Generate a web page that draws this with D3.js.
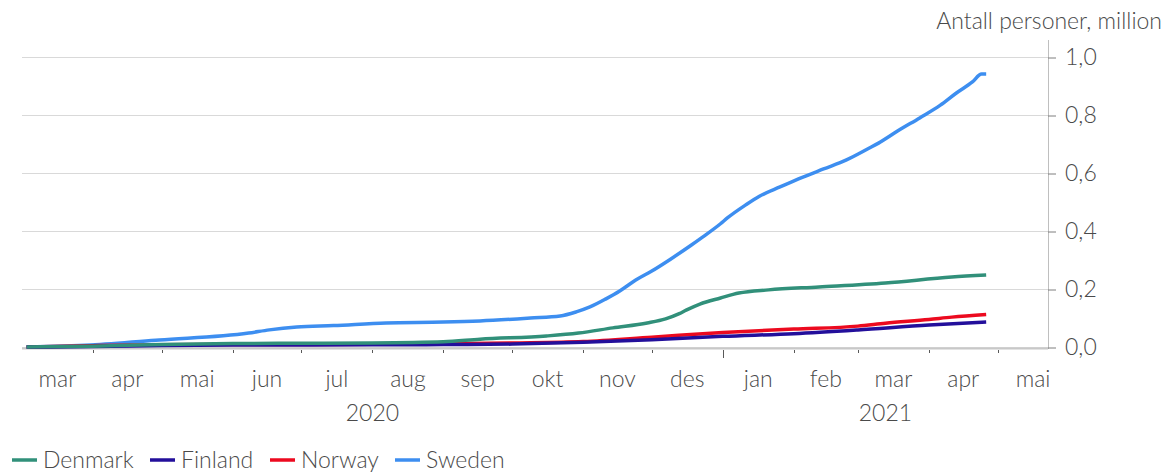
<!DOCTYPE html>
<html>
<head>
<meta charset="utf-8">
<script src="https://cdn.jsdelivr.net/npm/d3@7"></script>
<style>
  body { margin: 0; background: #fff; }
  text { font-family: Lato, "Open Sans", sans-serif; font-weight: 300; fill: #4a4a4a; }
</style>
</head>
<body>
<div id="chart"></div>
<script>
// cumulative persons, million
const denmark = [
  ["2020-03-03", 0.000], ["2020-04-01", 0.003], ["2020-05-01", 0.009], ["2020-06-01", 0.012],
  ["2020-07-01", 0.013], ["2020-08-01", 0.014], ["2020-09-01", 0.018], ["2020-09-17", 0.027],
  ["2020-10-16", 0.038], ["2020-10-30", 0.048], ["2020-11-14", 0.066], ["2020-11-29", 0.083],
  ["2020-12-07", 0.097], ["2020-12-13", 0.115], ["2020-12-16", 0.127], ["2020-12-22", 0.148],
  ["2020-12-31", 0.169], ["2021-01-08", 0.186], ["2021-01-21", 0.197], ["2021-02-12", 0.207],
  ["2021-03-13", 0.221], ["2021-04-11", 0.241], ["2021-04-26", 0.248]
];
const finland = [
  ["2020-03-03", 0.000], ["2020-04-01", 0.0014], ["2020-05-01", 0.005], ["2020-06-01", 0.0068],
  ["2020-07-01", 0.0072], ["2020-08-01", 0.0074], ["2020-09-01", 0.0082], ["2020-10-01", 0.010],
  ["2020-11-01", 0.016], ["2020-12-01", 0.025], ["2021-01-01", 0.037], ["2021-02-01", 0.046],
  ["2021-03-01", 0.059], ["2021-04-01", 0.076], ["2021-04-26", 0.086]
];
const norway = [
  ["2020-03-03", 0.000], ["2020-04-01", 0.0047], ["2020-05-01", 0.0077], ["2020-06-01", 0.0085],
  ["2020-07-01", 0.0089], ["2020-08-01", 0.0093], ["2020-09-01", 0.0107], ["2020-10-01", 0.0139],
  ["2020-11-01", 0.019], ["2020-12-01", 0.034], ["2021-01-01", 0.050], ["2021-02-01", 0.062],
  ["2021-03-01", 0.072], ["2021-03-13", 0.082], ["2021-04-01", 0.095], ["2021-04-11", 0.103],
  ["2021-04-26", 0.112]
];
const sweden = [
  ["2020-03-03", 0.000], ["2020-03-31", 0.007], ["2020-04-30", 0.024], ["2020-06-08", 0.048],
  ["2020-06-17", 0.059], ["2020-06-29", 0.069], ["2020-07-15", 0.074], ["2020-08-07", 0.083],
  ["2020-09-01", 0.086], ["2020-09-17", 0.090], ["2020-10-09", 0.100], ["2020-10-22", 0.107],
  ["2020-10-29", 0.121], ["2020-11-04", 0.138], ["2020-11-11", 0.166], ["2020-11-17", 0.193],
  ["2020-11-24", 0.231], ["2020-12-01", 0.262], ["2020-12-09", 0.302], ["2020-12-18", 0.350],
  ["2020-12-23", 0.378], ["2020-12-31", 0.425], ["2021-01-03", 0.445], ["2021-01-11", 0.490],
  ["2021-01-17", 0.520], ["2021-01-26", 0.552], ["2021-02-05", 0.586], ["2021-02-14", 0.614],
  ["2021-02-24", 0.645], ["2021-03-06", 0.686], ["2021-03-10", 0.703], ["2021-03-19", 0.748],
  ["2021-03-28", 0.790], ["2021-04-06", 0.834], ["2021-04-13", 0.876], ["2021-04-20", 0.914],
  ["2021-04-24", 0.941], ["2021-04-26", 0.941]
];

const seriesNames = ["Denmark", "Finland", "Norway", "Sweden"];
const seriesColors = ["#31907a", "#230f9b", "#ec0a1f", "#3d8ef0"];
const yTicks = [0, 0.2, 0.4, 0.6, 0.8, 1.0];
const monthNames = ["jan", "feb", "mar", "apr", "mai", "jun", "jul", "aug", "sep", "okt", "nov", "des"];
const yearLabels = ["2020", "2021"];

const w = 1168;
const h = 472;
const plotLeft = 22, plotRight = 1048, plotTop = 40, plotBottom = 347;
const fontSize = "23px";

const parse = d3.utcParse("%Y-%m-%d");
const allSeries = [denmark, finland, norway, sweden].map(s => s.map(d => [parse(d[0]), d[1]]));

const xScale = d3.scaleUtc()
  .domain([parse("2020-03-01"), parse("2021-05-23")])
  .range([plotLeft, plotRight]);

const yScale = d3.scaleLinear()
  .domain([0, 1])
  .range([plotBottom, 57]);

const svg = d3.select("#chart")
  .append("svg")
  .attr("width", w)
  .attr("height", h);

// gridlines
svg.append("g")
  .selectAll("line")
  .data(yTicks)
  .enter()
  .append("line")
  .attr("x1", plotLeft)
  .attr("x2", plotRight)
  .attr("y1", d => yScale(d) + 0.5)
  .attr("y2", d => yScale(d) + 0.5)
  .attr("stroke", "#d9d9d9")
  .attr("stroke-width", 1);

// right axis line
svg.append("line")
  .attr("x1", plotRight + 0.5).attr("x2", plotRight + 0.5)
  .attr("y1", plotTop).attr("y2", plotBottom + 2)
  .attr("stroke", "#bfbfbf");

// y axis on the right
const yAxis = d3.axisRight(yScale)
  .tickValues(yTicks)
  .tickSize(8)
  .tickPadding(9)
  .tickFormat(d => d3.format(".1f")(d).replace(".", ","));

const yg = svg.append("g")
  .attr("transform", `translate(${plotRight}, 0.5)`)
  .call(yAxis);
yg.select(".domain").remove();
yg.selectAll("line").attr("stroke", "#7f7f7f");
yg.selectAll("text").style("font-size", fontSize).attr("fill", "#4a4a4a");

// x axis line
svg.append("line")
  .attr("x1", plotLeft).attr("x2", plotRight)
  .attr("y1", plotBottom + 1.5).attr("y2", plotBottom + 1.5)
  .attr("stroke", "#c8c8c8")
  .attr("stroke-width", 2);

// month ticks
const monthStarts = d3.utcMonth.range(parse("2020-04-01"), parse("2021-05-02"));
svg.append("g")
  .selectAll("line")
  .data(monthStarts)
  .enter()
  .append("line")
  .attr("x1", d => Math.round(xScale(d)) + 0.5)
  .attr("x2", d => Math.round(xScale(d)) + 0.5)
  .attr("y1", plotBottom + 3)
  .attr("y2", d => d.getUTCMonth() === 0 ? plotBottom + 11 : plotBottom + 6)
  .attr("stroke", "#595959");

// month labels, centred in each month
const labelMonths = d3.utcMonth.range(parse("2020-03-01"), parse("2021-05-02"));
svg.append("g")
  .selectAll("text")
  .data(labelMonths)
  .enter()
  .append("text")
  .attr("x", d => (xScale(d) + xScale(d3.utcMonth.offset(d, 1))) / 2)
  .attr("y", 387)
  .attr("text-anchor", "middle")
  .style("font-size", fontSize)
  .text(d => monthNames[d.getUTCMonth()]);

// year labels
const yearSpans = [[parse("2020-03-01"), parse("2021-01-01")], [parse("2021-01-01"), parse("2021-05-23")]];
svg.append("g")
  .selectAll("text")
  .data(yearSpans)
  .enter()
  .append("text")
  .attr("x", d => (xScale(d[0]) + xScale(d[1])) / 2)
  .attr("y", 421)
  .attr("text-anchor", "middle")
  .style("font-size", fontSize)
  .text((d, i) => yearLabels[i]);

// axis title
svg.append("text")
  .attr("x", 1162)
  .attr("y", 29)
  .attr("text-anchor", "end")
  .style("font-size", fontSize)
  .text("Antall personer, million");

// lines
const line = d3.line()
  .x(d => xScale(d[0]))
  .y(d => yScale(d[1]))
  .curve(d3.curveMonotoneX);

const drawOrder = [3, 2, 1, 0];
svg.append("g")
  .selectAll("path")
  .data(drawOrder)
  .enter()
  .append("path")
  .attr("d", i => line(allSeries[i]))
  .attr("fill", "none")
  .attr("stroke", i => seriesColors[i])
  .attr("stroke-width", 3.5)
  .attr("stroke-linejoin", "round");

// legend
const legendX = [12, 150, 270, 395];
const legend = svg.append("g")
  .selectAll("g")
  .data(seriesNames)
  .enter()
  .append("g")
  .attr("transform", (d, i) => `translate(${legendX[i]}, 460)`);

legend.append("line")
  .attr("x1", 0).attr("x2", 25)
  .attr("stroke", (d, i) => seriesColors[i])
  .attr("stroke-width", 3.5);

legend.append("text")
  .attr("x", 31)
  .attr("y", 8)
  .style("font-size", fontSize)
  .text(d => d);
</script>
</body>
</html>
